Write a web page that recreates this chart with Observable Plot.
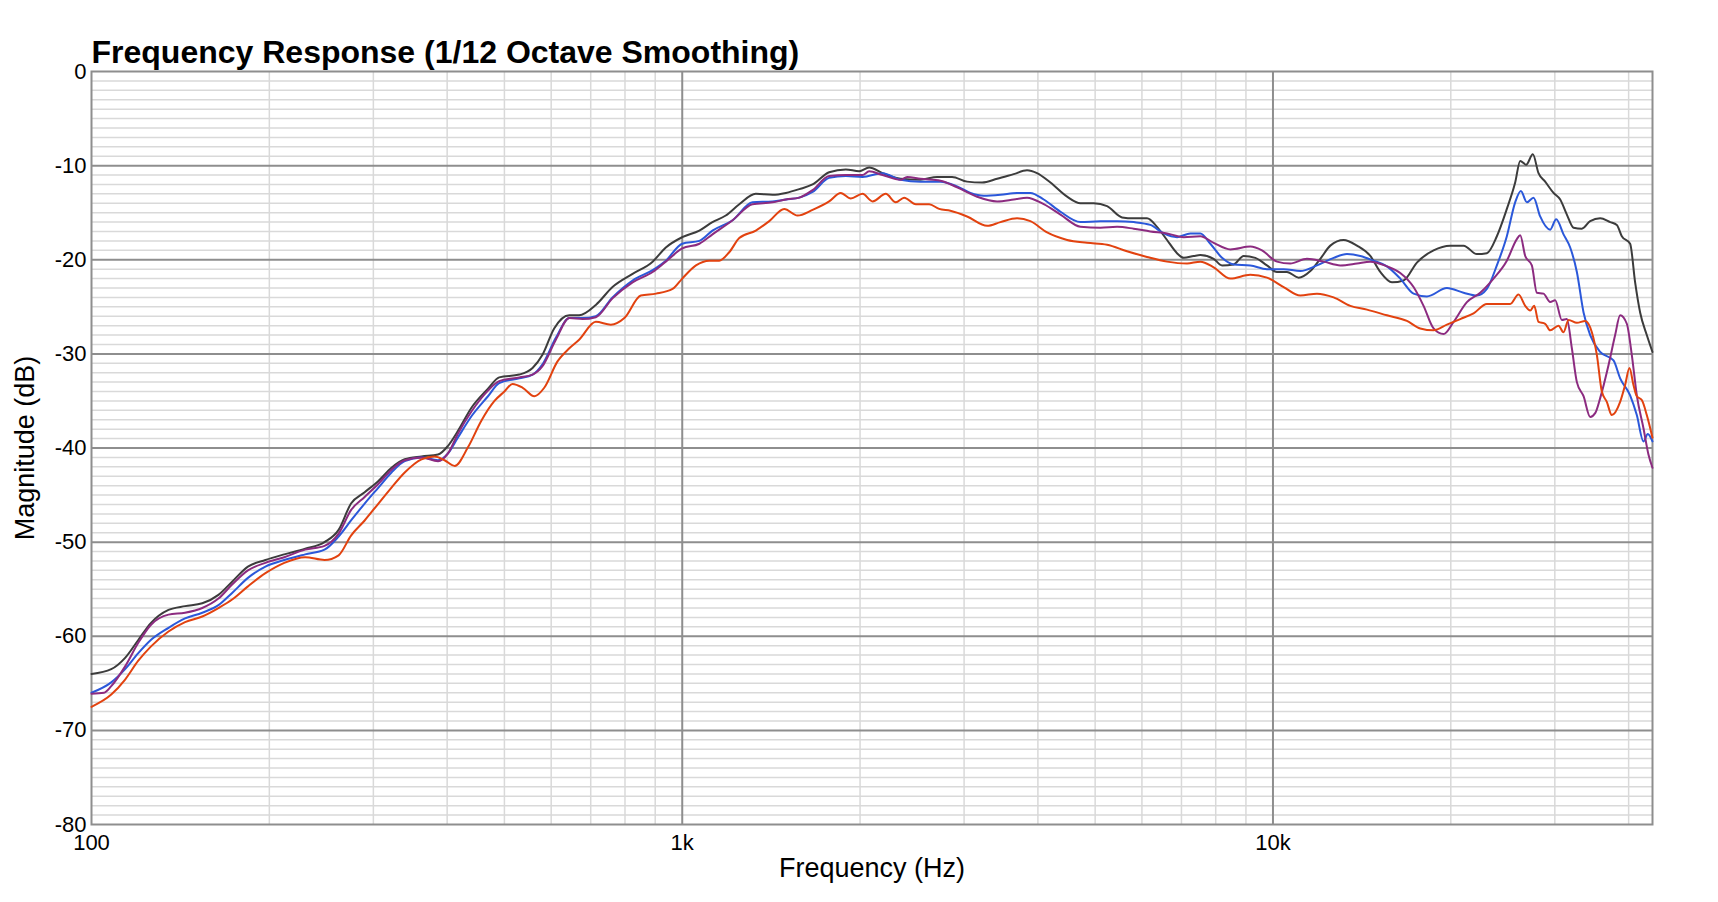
<!DOCTYPE html>
<html><head><meta charset="utf-8">
<script src="https://cdn.jsdelivr.net/npm/d3@7"></script>
<script src="https://cdn.jsdelivr.net/npm/@observablehq/plot@0.6"></script>
<style>html,body{margin:0;padding:0;background:#fff;} svg{display:block}</style>
</head><body><div id="chart"></div>
<script>
const titleText = "Frequency Response (1/12 Octave Smoothing)";
const xLabel = "Frequency (Hz)";
const yLabel = "Magnitude (dB)";
const xTicks = [100, 1000, 10000];
const xTickLabels = ["100", "1k", "10k"];
const yTicks = [0, -10, -20, -30, -40, -50, -60, -70, -80];

const blackSeries = [[100,-64.0],[108,-63.5],[114,-62.3],[120,-60.4],[126,-58.6],[135,-57.2],[144,-56.8],[154,-56.5],[164,-55.6],[173,-54.2],[184,-52.6],[197,-51.9],[212,-51.3],[230,-50.7],[248,-50.0],[262,-48.7],[275,-45.9],[290,-44.7],[306,-43.5],[322,-42.1],[339,-41.2],[362,-40.9],[386,-40.7],[401,-39.8],[417,-38.2],[440,-35.7],[469,-33.7],
[490,-32.5],[530,-32.2],[558,-31.5],[580,-30.1],[607,-27.3],[644,-25.9],[669,-25.9],[714,-24.8],[762,-22.9],[824,-21.5],[891,-20.2],[938,-18.7],[1000,-17.6],[1069,-16.9],[1125,-16.0],[1185,-15.3],[1249,-14.1],[1332,-13.0],[1422,-13.1],[1498,-12.9],[1578,-12.5],[1662,-12.0],[1773,-10.7],[1892,-10.4],[1993,-10.6],[2072,-10.2],[2183,-10.8],
[2342,-11.4],[2531,-11.5],[2701,-11.2],[2863,-11.2],[3035,-11.7],[3218,-11.8],[3412,-11.4],[3640,-10.9],[3834,-10.5],[3986,-10.8],[4200,-11.8],[4483,-13.3],[4721,-14.0],[4973,-14.0],[5238,-14.3],[5553,-15.5],[5811,-15.6],[6120,-15.6],[6363,-16.5],[6617,-17.9],[6880,-19.3],[7061,-19.8],[7343,-19.6],
[7535,-19.5],[7936,-19.9],[8199,-20.6],[8580,-20.5],[8920,-19.6],[9335,-19.8],[9768,-20.6],[10157,-21.3],[10561,-21.3],[11052,-21.9],[11568,-21.2],[12027,-19.9],[12505,-18.5],[13172,-17.9],[13873,-18.5],[14613,-19.6],[15193,-21.3],[15899,-22.4],[16638,-22.2],[17524,-20.3],[18701,-19.0],[19958,-18.5],[21020,-18.5],[22140,-19.4],[23019,-19.3],[23933,-17.5],[24883,-14.6],[25704,-11.8],[26212,-9.5],[26832,-9.9],[27537,-8.8],[28151,-10.8],[28893,-11.7],[29848,-12.9],[30635,-13.6],[31441,-15.2],[32268,-16.6],[33336,-16.7],[34434,-15.9],[35800,-15.6],[37221,-16.0],[38200,-16.3],[38951,-17.5],[40234,-18.3],[41026,-22.4],[41834,-25.6],[42934,-28.0],[43894,-29.8]];

const blueSeries = [[100,-66.0],[108,-64.9],[114,-63.5],[120,-61.8],[126,-60.4],[135,-59.1],[144,-58.1],[154,-57.5],[164,-56.7],[173,-55.4],[184,-53.8],[197,-52.6],[212,-51.9],[230,-51.3],[248,-50.8],[262,-49.4],[275,-47.7],[290,-45.9],[306,-44.2],[322,-42.6],[339,-41.4],[362,-41.0],[386,-41.3],[401,-40.6],[417,-38.9],[440,-36.6],[469,-34.5],
[490,-33.1],[530,-32.6],[558,-32.2],[580,-31.1],[611,-28.3],[644,-26.2],[678,-26.2],[714,-26.0],[762,-24.0],[824,-22.2],[891,-21.1],[938,-20.1],[1000,-18.3],[1069,-18.0],[1125,-16.9],[1217,-15.8],[1315,-13.9],[1422,-13.8],[1498,-13.6],[1578,-13.4],[1662,-12.8],[1773,-11.3],[1892,-11.1],[2019,-11.2],[2183,-10.8],
[2342,-11.5],[2531,-11.7],[2736,-11.7],[2919,-12.2],[3075,-12.9],[3239,-13.2],[3457,-13.1],[3688,-12.9],[3884,-12.9],[4092,-13.6],[4368,-14.9],[4721,-16.0],[5104,-15.9],[5446,-15.9],[5811,-16.0],[6200,-16.3],[6531,-17.2],[6880,-17.6],[7248,-17.2],
[7535,-17.2],[7834,-18.3],[8199,-19.8],[8580,-20.5],[9154,-20.6],[9768,-21.0],[10424,-21.0],[11124,-21.2],[11871,-20.6],[12668,-19.8],[13343,-19.4],[14055,-19.6],[14803,-20.1],[15592,-20.7],[16424,-22.0],[17298,-23.6],[18221,-23.9],[19700,-23.0],[21020,-23.5],[22140,-23.8],[23019,-23.1],[23933,-20.6],[24883,-17.5],[25704,-13.9],[26280,-12.7],[26902,-13.9],[27609,-13.4],[28335,-15.4],[29461,-16.8],[30160,-15.7],[31035,-17.3],[31851,-18.7],[32691,-21.3],[33554,-25.6],[34434,-28.0],[35800,-29.8],[37707,-30.7],[38699,-32.6],[40234,-34.4],[41294,-36.5],[42382,-39.3],[43103,-38.5],[43894,-39.3]];

const purpleSeries = [[100,-66.1],[105,-66.0],[108,-65.3],[114,-63.2],[120,-60.7],[126,-58.8],[135,-57.7],[144,-57.5],[154,-57.0],[164,-56.0],[173,-54.5],[184,-53.0],[197,-52.2],[212,-51.6],[230,-50.8],[248,-50.4],[262,-49.1],[275,-46.6],[290,-45.2],[306,-43.8],[322,-42.3],[339,-41.3],[362,-41.0],[386,-41.4],[401,-40.6],[417,-38.5],[440,-36.1],[469,-33.9],
[490,-32.9],[530,-32.5],[558,-32.2],[580,-31.3],[611,-28.5],[644,-26.2],[678,-26.3],[714,-26.1],[762,-24.1],[824,-22.4],[891,-21.3],[938,-20.2],[1000,-18.8],[1069,-18.3],[1125,-17.3],[1217,-15.8],[1315,-14.1],[1422,-13.9],[1498,-13.6],[1578,-13.4],[1662,-12.6],[1773,-11.1],[1892,-11.0],[2019,-11.0],[2072,-10.6],[2183,-11.0],
[2342,-11.5],[2403,-11.2],[2531,-11.4],[2736,-11.6],[2919,-12.3],[3156,-13.3],[3412,-13.8],[3640,-13.6],[3834,-13.4],[4092,-14.1],[4368,-15.2],[4721,-16.5],[5104,-16.6],[5446,-16.5],[5811,-16.7],[6200,-17.0],[6617,-17.2],[7061,-17.6],
[7535,-17.5],[7936,-18.2],[8470,-18.9],[9154,-18.6],[9580,-19.0],[10157,-20.2],[10698,-20.4],[11417,-19.9],[12184,-20.2],[13001,-20.6],[13873,-20.4],[14613,-20.2],[15592,-20.7],[16424,-21.4],[17298,-22.9],[17985,-24.9],[18701,-27.3],[19445,-27.9],[20219,-26.6],[21295,-24.5],[22430,-23.5],[23624,-22.0],[24883,-20.1],[25873,-17.8],[26212,-17.4],[26730,-19.6],[27430,-20.6],[27969,-23.5],[28706,-23.6],[29461,-24.5],[30043,-24.3],[30834,-26.4],[31441,-26.3],[32059,-29.4],[32691,-33.0],[33554,-34.5],[34434,-36.7],[35110,-36.3],[35800,-34.7],[36980,-31.2],[37953,-28.0],[38699,-25.9],[39717,-26.8],[40496,-30.1],[41294,-34.4],[42382,-37.9],[43214,-40.7],[43894,-42.1]];

const redSeries = [[100,-67.5],[108,-66.2],[114,-64.6],[120,-62.6],[126,-61.1],[135,-59.5],[144,-58.5],[154,-57.9],[164,-57.0],[173,-56.1],[184,-54.7],[197,-53.3],[212,-52.2],[230,-51.6],[248,-51.9],[262,-51.4],[275,-49.3],[290,-47.7],[306,-45.9],[322,-44.2],[339,-42.6],[362,-41.2],[381,-40.9],[396,-41.3],[412,-41.9],[434,-39.9],[457,-37.1],[481,-35.0],
[500,-34.0],[516,-33.2],[537,-33.6],[562,-34.5],[584,-33.6],[615,-30.8],[644,-29.4],[669,-28.5],[714,-26.6],[757,-26.9],[798,-26.2],[851,-23.8],[903,-23.6],[963,-23.1],[1000,-22.0],[1055,-20.6],[1111,-20.1],[1155,-20.1],[1201,-19.2],[1249,-17.7],[1332,-16.9],[1404,-15.9],[1488,-14.6],[1567,-15.3],[1662,-14.7],[1773,-13.8],[1855,-12.9],[1929,-13.5],[2019,-13.0],[2100,-13.8],[2211,-13.0],[2299,-13.9],[2375,-13.4],[2486,-14.1],[2618,-14.1],[2722,-14.6],
[2844,-14.8],[3035,-15.4],[3282,-16.4],[3457,-16.0],[3688,-15.6],[3884,-15.9],[4146,-17.1],[4483,-17.9],[4845,-18.2],[5238,-18.4],[5662,-19.1],[6120,-19.7],[6617,-20.2],[7154,-20.4],
[7535,-20.2],[7936,-20.8],[8470,-22.0],[9154,-21.6],[9768,-21.9],[10424,-22.9],[11124,-23.8],[11871,-23.6],[12668,-24.0],[13518,-24.9],[14424,-25.3],[15592,-25.9],[16855,-26.5],[17753,-27.3],[18701,-27.5],[19700,-26.9],[20749,-26.3],[21855,-25.7],[23019,-24.7],[24246,-24.7],[25209,-24.7],[26042,-23.7],[26730,-24.9],[27253,-25.4],[27681,-24.9],[28151,-26.6],[28893,-26.8],[29461,-27.5],[30437,-27.0],[31035,-27.7],[31646,-26.4],[32691,-26.7],[33773,-26.5],[34659,-27.7],[35339,-30.1],[36034,-34.0],[36740,-35.1],[37463,-36.5],[38699,-35.1],[39459,-33.3],[40130,-31.5],[40760,-33.3],[41294,-34.5],[42107,-34.9],[42934,-36.5],[43894,-38.9]];

const seriesNames = ["Series 1", "Series 2", "Series 3", "Series 4"];
const seriesColors = ["#3c3c3c", "#2b58da", "#8c2b80", "#e2420f"];
const seriesData = [blackSeries, blueSeries, purpleSeries, redSeries];

const rows = seriesData.flatMap((arr, i) => arr.map(([f, db]) => ({series: seriesNames[i], f, db})));

const minorX = [2,3,4,5,6,7,8,9].flatMap(m => [m*100, m*1000]).concat([20000, 30000, 40000]);
const majorX = [1000, 10000];
const minorY = d3.range(-79, 0).filter(v => v % 10 !== 0);
const majorY = d3.range(-70, 0, 10);

const chart = Plot.plot({
  width: 1718,
  height: 902,
  marginLeft: 91,
  marginRight: 66,
  marginTop: 71,
  marginBottom: 78,
  style: {fontFamily: "'Liberation Sans', Arial, Helvetica, sans-serif", fontSize: "22px", background: "#fff", color: "#000"},
  x: {type: "log", domain: [100, 43900]},
  y: {domain: [-80, 0]},
  color: {type: "ordinal", domain: seriesNames, range: seriesColors},
  marks: [
    Plot.ruleY(minorY, {stroke: "#d9d9d9", strokeWidth: 1.5}),
    Plot.ruleX(minorX, {stroke: "#d9d9d9", strokeWidth: 1.5}),
    Plot.ruleY(majorY, {stroke: "#8e8e8e", strokeWidth: 2}),
    Plot.ruleX(majorX, {stroke: "#8e8e8e", strokeWidth: 2}),
    Plot.frame({stroke: "#8e8e8e", strokeWidth: 2}),
    Plot.line(rows, {x: "f", y: "db", z: "series", stroke: "series", strokeWidth: 2, curve: "monotone-x"}),
    Plot.axisX(xTicks, {tickSize: 0, tickPadding: 10, label: null, tickFormat: d => xTickLabels[xTicks.indexOf(d)], fill: "#000"}),
    Plot.axisY(yTicks, {tickSize: 0, tickPadding: 5, label: null, tickFormat: d => String(d), fill: "#000"}),
    Plot.text([titleText], {text: d => d, frameAnchor: "top-left", lineAnchor: "middle", dy: -19, textAnchor: "start", fontSize: 32, fontWeight: "bold", fill: "#000"}),
    Plot.text([xLabel], {text: d => d, frameAnchor: "bottom", lineAnchor: "middle", textAnchor: "middle", dy: 44, fontSize: 27, fill: "#000"}),
    Plot.text([yLabel], {text: d => d, frameAnchor: "left", lineAnchor: "middle", textAnchor: "middle", dx: -66, rotate: -90, fontSize: 27, fill: "#000"})
  ]
});
document.getElementById("chart").appendChild(chart);
</script>
</body></html>
